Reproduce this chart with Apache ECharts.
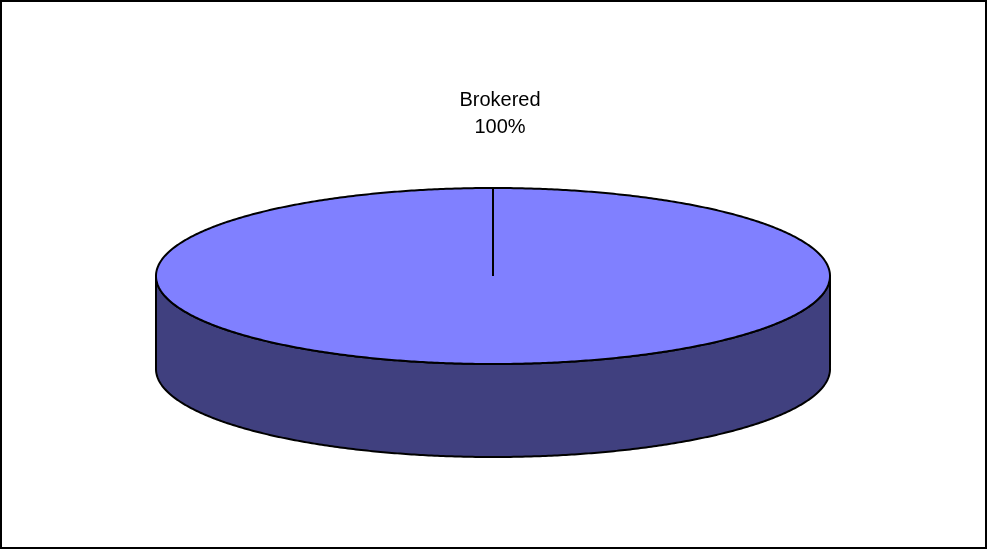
<!DOCTYPE html>
<html>
<head>
<meta charset="utf-8">
<script src="https://cdn.jsdelivr.net/npm/echarts@6/dist/echarts.min.js"></script>
<style>
  html, body { margin: 0; padding: 0; background: #fff; }
  #frame { width: 987px; height: 549px; box-sizing: border-box; border: 2px solid #000; background: #fff; }
  #chart { width: 983px; height: 545px; }
</style>
</head>
<body>
<div id="frame"><div id="chart"></div></div>
<script>
// Slice data
const categories = ['Brokered'];
const values = [100];

const topColors = ['#8080FF'];
const sideColors = ['#40407F'];

// Elliptical pie geometry (in chart pixels)
const PIE = { cx: 491, cy: 274, rx: 337, ry: 88, depth: 93 };

const total = values.reduce((a, b) => a + b, 0);
const starts = [];
let acc = 0;
values.forEach(v => { starts.push(acc); acc += v; });

// angle measured clockwise from 12 o'clock
function pt(theta, dy) {
  return [PIE.cx + PIE.rx * Math.sin(theta), PIE.cy - PIE.ry * Math.cos(theta) + (dy || 0)];
}
function arc(a, b, dy) {
  const n = Math.max(2, Math.ceil(Math.abs(b - a) / (Math.PI / 360)));
  const out = [];
  for (let i = 0; i <= n; i++) out.push(pt(a + (b - a) * i / n, dy));
  return out;
}

function renderItem(params, api) {
  const i = params.dataIndex;
  const v = api.value(0);
  const a0 = starts[i] / total * Math.PI * 2;
  const a1 = a0 + v / total * Math.PI * 2;
  const children = [];

  // Outer wall: only the front half (90°..270°) is visible
  const fa = Math.max(a0, Math.PI / 2), fb = Math.min(a1, Math.PI * 1.5);
  if (fb > fa) {
    const upper = arc(fa, fb, 0);
    const lower = arc(fb, fa, PIE.depth);
    children.push({
      type: 'polygon',
      shape: { points: upper.concat(lower) },
      style: { fill: sideColors[i % sideColors.length], stroke: '#000', lineWidth: 2, lineJoin: 'round' }
    });
  }

  // Top face
  const top = [[PIE.cx, PIE.cy]].concat(arc(a0, a1, 0));
  children.push({
    type: 'polygon',
    shape: { points: top },
    style: { fill: topColors[i % topColors.length], stroke: '#000', lineWidth: 2, lineJoin: 'miter' }
  });

  // Label above the slice
  const mid = (a0 + a1) / 2;
  const pct = Math.round(v / total * 100) + '%';
  const lp = v === total ? [PIE.cx + 7, 112] : pt(mid, 0);
  children.push({
    type: 'text',
    style: {
      x: lp[0], y: lp[1],
      text: categories[i] + '\n' + pct,
      fill: '#000',
      font: '20px "Liberation Sans", Arial, sans-serif',
      lineHeight: 27,
      align: 'center',
      verticalAlign: 'middle'
    }
  });

  return { type: 'group', children };
}

const chart = echarts.init(document.getElementById('chart'), null, { renderer: 'canvas' });
chart.setOption({
  animation: false,
  backgroundColor: '#fff',
  series: [{
    type: 'custom',
    coordinateSystem: 'none',
    renderItem,
    data: values.map((v, i) => ({ name: categories[i], value: [v] }))
  }]
});
</script>
</body>
</html>
